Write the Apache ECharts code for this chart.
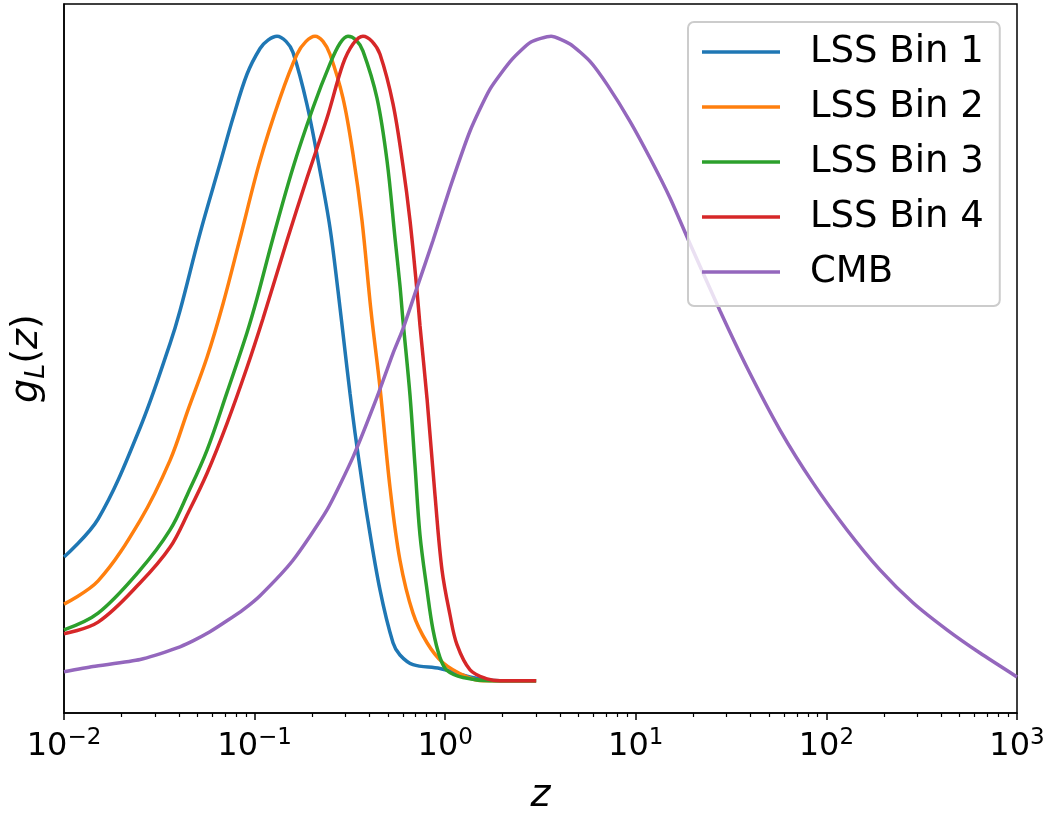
<!DOCTYPE html>
<html><head><meta charset="utf-8">
<script src="https://cdn.jsdelivr.net/npm/echarts@6/dist/echarts.min.js"></script>
<style>html,body{margin:0;padding:0;background:#fff}#c{width:1052px;height:814px}</style>
</head><body><div id="c"></div>
<script>
// ---- data ----
const seriesNames = ['LSS Bin 1', 'LSS Bin 2', 'LSS Bin 3', 'LSS Bin 4', 'CMB'];
const seriesColors = ['#1f77b4', '#ff7f0e', '#2ca02c', '#d62728', '#9467bd'];

const zBin1 = [0.01, 0.0151, 0.0251, 0.036, 0.0406, 0.0517, 0.0658, 0.0770, 0.0912, 0.1068, 0.1176, 0.1311, 0.1462, 0.159, 0.1883, 0.2204, 0.2486, 0.2739, 0.298, 0.3166, 0.3363, 0.3573, 0.3888, 0.4549, 0.5323, 0.579, 0.6777, 0.9391, 1.35, 1.94, 3.0];
const gBin1 = [0.192, 0.251, 0.393, 0.523, 0.574, 0.694, 0.802, 0.873, 0.941, 0.981, 0.994, 1.0, 0.992, 0.975, 0.894, 0.791, 0.703, 0.605, 0.512, 0.446, 0.385, 0.330, 0.257, 0.141, 0.059, 0.040, 0.025, 0.019, 0.006, 0.0, 0.0];

const zBin2 = [0.01, 0.0151, 0.0251, 0.036, 0.0447, 0.0563, 0.0683, 0.0838, 0.1068, 0.1359, 0.1669, 0.1861, 0.2075, 0.2285, 0.2486, 0.2909, 0.3283, 0.366, 0.408, 0.4549, 0.5133, 0.579, 0.6777, 0.8028, 0.9738, 1.30, 1.58, 3.0];
const gBin2 = [0.119, 0.155, 0.249, 0.342, 0.420, 0.502, 0.585, 0.686, 0.807, 0.904, 0.972, 0.992, 1.0, 0.992, 0.972, 0.904, 0.817, 0.714, 0.574, 0.455, 0.300, 0.187, 0.105, 0.059, 0.028, 0.006, 0.0, 0.0];

const zBin3 = [0.01, 0.0151, 0.0251, 0.036, 0.0447, 0.0563, 0.0716, 0.0912, 0.1029, 0.1249, 0.159, 0.2025, 0.2486, 0.2806, 0.309, 0.3404, 0.3704, 0.4387, 0.4951, 0.5453, 0.579, 0.6004, 0.6536, 0.6942, 0.7375, 0.8028, 0.8631, 0.9391, 1.022, 1.24, 1.72, 3.0];
const gBin3 = [0.079, 0.105, 0.172, 0.234, 0.291, 0.358, 0.447, 0.540, 0.593, 0.687, 0.796, 0.889, 0.957, 0.989, 1.0, 0.994, 0.977, 0.904, 0.807, 0.687, 0.613, 0.559, 0.443, 0.334, 0.226, 0.141, 0.079, 0.036, 0.016, 0.005, 0.0, 0.0];

const zBin4 = [0.01, 0.0151, 0.0251, 0.036, 0.0447, 0.0563, 0.0716, 0.0912, 0.1107, 0.1479, 0.1883, 0.2398, 0.2909, 0.3283, 0.3704, 0.413, 0.4549, 0.5323, 0.6004, 0.6536, 0.7112, 0.7375, 0.8028, 0.8841, 0.9621, 1.06, 1.153, 1.35, 1.657, 1.94, 3.0];
const gBin4 = [0.073, 0.091, 0.152, 0.207, 0.260, 0.322, 0.399, 0.486, 0.562, 0.683, 0.780, 0.873, 0.957, 0.988, 1.0, 0.992, 0.972, 0.895, 0.799, 0.714, 0.605, 0.551, 0.438, 0.288, 0.172, 0.102, 0.056, 0.017, 0.003, 0.0, 0.0];

const zCMB = [0.01, 0.0142, 0.0251, 0.0392, 0.0475, 0.0583, 0.0716, 0.0869, 0.1068, 0.159, 0.2398, 0.3283, 0.4387, 0.5323, 0.6004, 0.7112, 0.8631, 1.06, 1.35, 1.718, 2.241, 2.819, 3.591, 4.515, 5.751, 7.147, 9.323, 11.87, 15.12, 19.25, 27.65, 38.32, 57.1, 85.06, 128.3, 191.1, 284.7, 429.3, 639.5, 1000];
const gCMB = [0.014, 0.022, 0.033, 0.051, 0.062, 0.076, 0.093, 0.110, 0.132, 0.187, 0.265, 0.347, 0.440, 0.508, 0.546, 0.610, 0.683, 0.765, 0.853, 0.918, 0.964, 0.991, 1.0, 0.988, 0.961, 0.923, 0.868, 0.811, 0.749, 0.678, 0.574, 0.486, 0.389, 0.307, 0.234, 0.172, 0.121, 0.079, 0.043, 0.006];

// axis ticks
const decadeExponents = [-2, -1, 0, 1, 2, 3];
const tickLabelExp = ['\u22122', '\u22121', '0', '1', '2', '3'];
const minorMultipliers = [2, 3, 4, 5, 6, 7, 8, 9];

// ---- chart ----
const FONT = 'DejaVu Sans';
const zs = [zBin1, zBin2, zBin3, zBin4, zCMB];
const gs = [gBin1, gBin2, gBin3, gBin4, gCMB];
const smoothing = [0.35, 0.35, 0.35, 0.35, 0.2];

const minorTickValues = [];
decadeExponents.slice(0, -1).forEach(e => minorMultipliers.forEach(m => minorTickValues.push(e + Math.log10(m))));

const chart = echarts.init(document.getElementById('c'), null, {renderer: 'canvas'});
chart.setOption({
  animation: false,
  backgroundColor: '#fff',
  grid: {left: 64, right: 35, top: 4, bottom: 101, show: true, borderColor: '#000', borderWidth: 1.5, backgroundColor: 'transparent', outerBoundsMode: 'none', containLabel: false},
  legend: {
    orient: 'vertical', left: 688, top: 22,
    data: seriesNames,
    icon: 'rect',
    itemWidth: 78, itemHeight: 3.5, itemGap: 15,
    padding: [10, 16, 14, 14],
    backgroundColor: 'rgba(255,255,255,0.8)',
    borderColor: '#cccccc', borderWidth: 2, borderRadius: 6,
    textStyle: {fontFamily: FONT, fontSize: 37, color: '#000', lineHeight: 40, padding: [0, 0, 0, 25]},
    selectedMode: false
  },
  xAxis: [{
    type: 'log', logBase: 10, min: 0.01, max: 1000,
    name: 'z', nameLocation: 'middle', nameGap: 60,
    nameTextStyle: {fontFamily: FONT, fontSize: 38, fontStyle: 'italic', color: '#000', lineHeight: 46},
    axisLine: {show: true, onZero: false, lineStyle: {color: '#000', width: 1.5}},
    axisTick: {show: true, length: 7, lineStyle: {color: '#000', width: 1.5}},
    minorTick: {show: false},
    splitLine: {show: false},
    axisLabel: {
      show: true, margin: 14, showMinLabel: true, showMaxLabel: true,
      color: '#000', fontFamily: FONT,
      formatter: v => {
        const e = Math.round(Math.log10(v));
        const i = decadeExponents.indexOf(e);
        return '{b|10}{s|' + tickLabelExp[i] + '}';
      },
      rich: {
        b: {fontFamily: FONT, fontSize: 32, lineHeight: 40, color: '#000'},
        s: {fontFamily: FONT, fontSize: 23, lineHeight: 20, verticalAlign: 'top', color: '#000'}
      }
    }
  }, {
    type: 'value', min: -2, max: 3, position: 'bottom',
    axisLine: {show: false, onZero: false},
    axisLabel: {show: false},
    splitLine: {show: false},
    axisTick: {show: true, length: 4, customValues: minorTickValues, lineStyle: {color: '#000', width: 1.2}}
  }],
  yAxis: {
    type: 'value', min: -0.05, max: 1.05,
    name: '{i|g}{sub|L}{n|(}{i|z}{n|)}', nameLocation: 'middle', nameGap: 14, nameRotate: 90,
    nameTextStyle: {
      fontFamily: FONT, fontSize: 38, color: '#000',
      rich: {
        i: {fontFamily: FONT, fontSize: 38, fontStyle: 'italic', lineHeight: 46, color: '#000'},
        n: {fontFamily: FONT, fontSize: 38, lineHeight: 46, color: '#000'},
        sub: {fontFamily: FONT, fontSize: 27, fontStyle: 'italic', lineHeight: 20, verticalAlign: 'bottom', color: '#000'}
      }
    },
    axisLine: {show: true, onZero: false, lineStyle: {color: '#000', width: 1.5}},
    axisTick: {show: false},
    axisLabel: {show: false},
    splitLine: {show: false}
  },
  series: seriesNames.map((name, k) => ({
    name, type: 'line', xAxisIndex: 0, yAxisIndex: 0,
    data: zs[k].map((z, i) => [z, gs[k][i]]),
    symbol: 'none', showSymbol: false, smooth: smoothing[k], clip: true,
    color: seriesColors[k],
    lineStyle: {color: seriesColors[k], width: 3.5},
    itemStyle: {color: seriesColors[k]},
    emphasis: {disabled: true}
  }))
});
</script>
</body></html>
